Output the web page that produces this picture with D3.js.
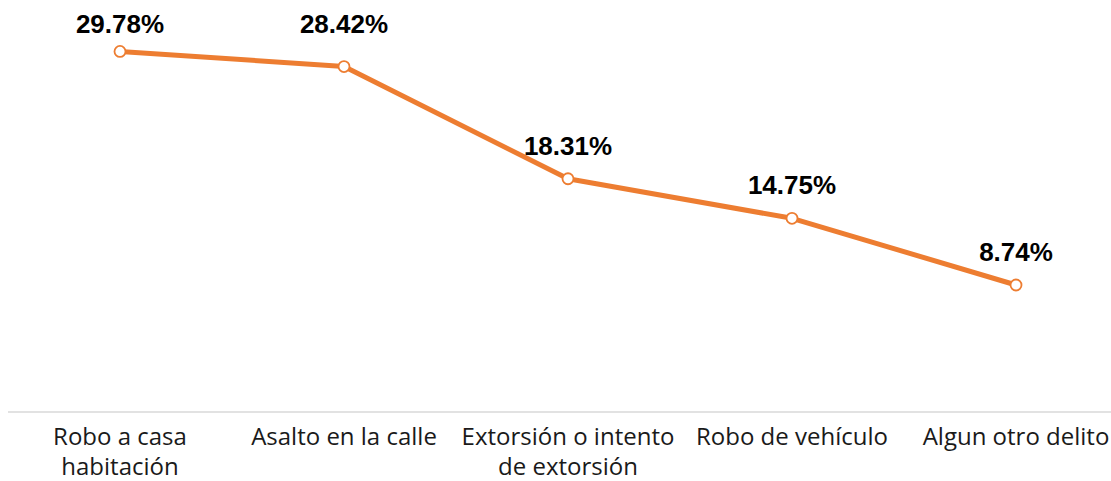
<!DOCTYPE html>
<html>
<head>
<meta charset="utf-8">
<script src="https://cdn.jsdelivr.net/npm/d3@7"></script>
<style>
  body { margin: 0; background: #fff; }
</style>
</head>
<body>
<div id="chart"></div>
<script>
// data
var categories = ['Robo a casa habitación', 'Asalto en la calle', 'Extorsión o intento de extorsión', 'Robo de vehículo', 'Algun otro delito']
var values = [29.78, 28.42, 18.31, 14.75, 8.74]

var W = 1111, H = 481
var plot = { left: 8, right: 1128, top: 49, bottom: 412 }

var svg = d3.select('#chart').append('svg')
    .attr('width', W)
    .attr('height', H)

// Scales
var xScale = d3.scaleBand()
  .domain(categories)
  .range([plot.left, plot.right])
var yScale = d3.scaleLinear()
  .domain([-2.7, 30])
  .range([plot.bottom, plot.top])

// X-axis line
svg.append('line')
    .attr('x1', plot.left)
    .attr('x2', plot.right)
    .attr('y1', yScale(-2.7))
    .attr('y2', yScale(-2.7))
    .attr('stroke', '#d9d9d9')
    .attr('stroke-width', 1.5)

// category labels, wrapped to band width
var labels = svg.selectAll('.cat')
    .data(categories)
    .enter()
  .append('text')
    .attr('class', 'cat')
    .attr('x', function (d) { return xScale(d) + xScale.bandwidth() / 2 })
    .attr('y', 445)
    .attr('text-anchor', 'middle')
    .style('font-family', '"Open Sans", sans-serif')
    .style('font-size', '24px')
    .style('fill', '#1a1a1a')

labels.each(function (d) {
  var el = d3.select(this)
  var words = d.split(' ')
  var line = []
  var x = el.attr('x')
  var tspan = el.append('tspan').attr('x', x).attr('dy', 0)
  words.forEach(function (w) {
    line.push(w)
    tspan.text(line.join(' '))
    if (tspan.node().getComputedTextLength() > xScale.bandwidth() - 4 && line.length > 1) {
      line.pop()
      tspan.text(line.join(' '))
      line = [w]
      tspan = el.append('tspan').attr('x', x).attr('dy', 30).text(w)
    }
  })
})

// Line
var line = d3.line()
  .x(function (d, i) { return xScale(categories[i]) + xScale.bandwidth() / 2 })
  .y(function (d) { return yScale(d) })

svg.append('path')
    .datum(values)
    .attr('d', line)
    .attr('fill', 'none')
    .attr('stroke', '#ED7D31')
    .attr('stroke-width', 5)
    .attr('stroke-linejoin', 'round')

// markers
svg.selectAll('circle')
    .data(values)
    .enter()
  .append('circle')
    .attr('cx', function (d, i) { return xScale(categories[i]) + xScale.bandwidth() / 2 })
    .attr('cy', function (d) { return yScale(d) })
    .attr('r', 5.5)
    .attr('fill', '#fff')
    .attr('stroke', '#ED7D31')
    .attr('stroke-width', 1.8)

// data labels, pinned to the top edge when too close to it
svg.selectAll('.val')
    .data(values)
    .enter()
  .append('text')
    .attr('class', 'val')
    .attr('x', function (d, i) { return xScale(categories[i]) + xScale.bandwidth() / 2 })
    .attr('y', function (d) {
      var y = yScale(d) - 24
      return y < 50 ? 33 : y
    })
    .attr('text-anchor', 'middle')
    .style('font-family', '"Liberation Sans", Arial, sans-serif')
    .style('font-weight', 'bold')
    .style('font-size', '26px')
    .style('fill', '#000')
    .text(function (d) { return d.toFixed(2) + '%' })
</script>
</body>
</html>
